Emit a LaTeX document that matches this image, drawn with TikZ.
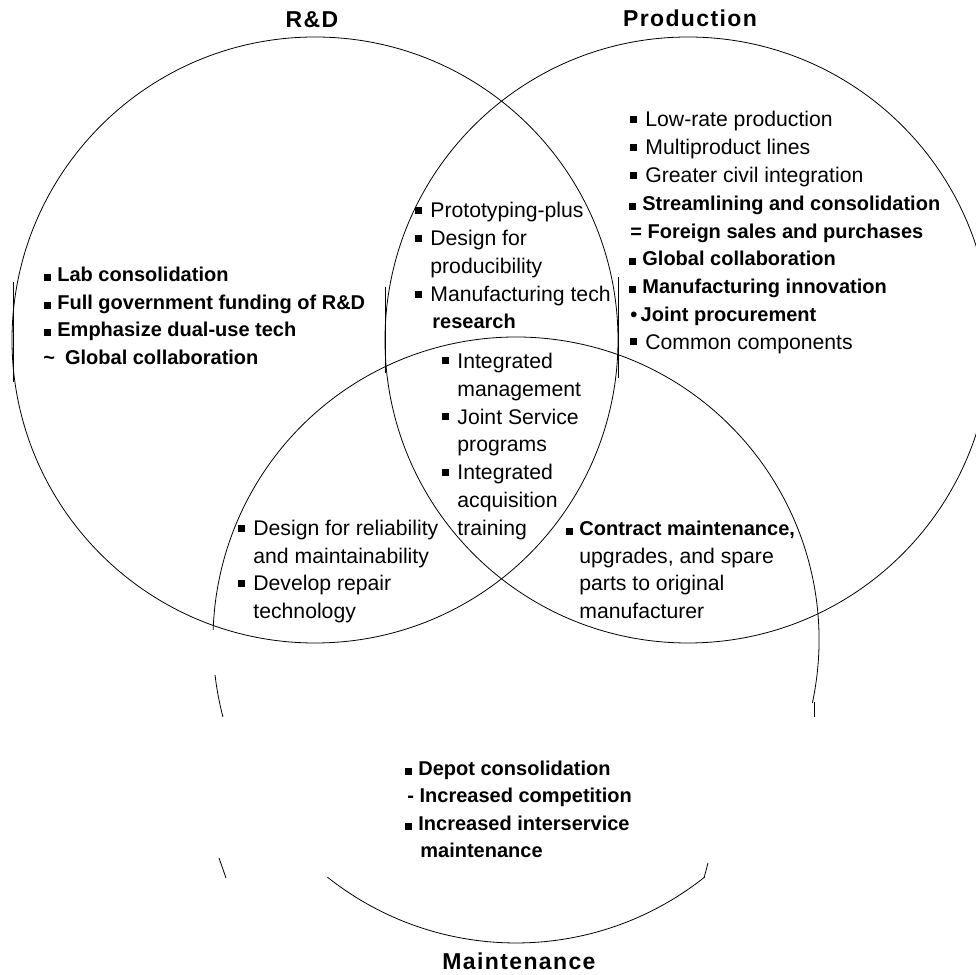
\documentclass[tikz,border=0pt]{standalone}
\usepackage{fontspec}
\setmainfont{Liberation Sans}
\usepackage{tikz}
\newcommand{\ntxt}{\fontsize{10.6}{12}\selectfont}
\newcommand{\btxt}{\fontsize{10}{12}\selectfont\bfseries}
\newcommand{\nsq}{\rule[2pt]{3.5pt}{3.5pt}\hspace{4pt}}
\newcommand{\bsq}{\rule[0.3pt]{3.5pt}{3.5pt}\hspace{3pt}}
\begin{document}
\begin{tikzpicture}[x=0.5pt,y=0.5pt,line width=0.4pt,
  item/.style={anchor=base west,inner sep=0pt,font=\ntxt},
  bitem/.style={anchor=base west,inner sep=0pt,font=\btxt},
  head/.style={anchor=base,inner sep=0pt,font=\fontsize{11.5}{12}\selectfont\bfseries\addfontfeature{LetterSpace=6}}]
  \useasboundingbox (0,0) rectangle (976,975);
  \draw (315,635) circle[radius=303];
  \draw (688,635) circle[radius=303];
  \draw (516,335) ++(-12:303) arc[start angle=-12,end angle=178.1,radius=303];
  \draw (516,335) ++(186.6:303) arc[start angle=186.6,end angle=194.7,radius=303];
  \draw (516,335) ++(231.5:303) arc[start angle=231.5,end angle=308.5,radius=303];
  \draw (219,117) -- (226,97);
  \draw (704,97) -- (708,112);
  \draw (814,273) -- (814,258);
  \draw (13,693) -- (13,593);
  \draw (385,688) -- (385,602);
  \draw (618,698) -- (618,597);

  \node[head] (rd) at (312,947) {R\&D};
  \node[head] (prod) at (690,948) {Production};
  \node[head] (maint) at (519,5) {Maintenance};

  \node[bitem] (rd1) at (44,693) {\bsq Lab consolidation};
  \node[bitem] (rd2) at (44,665.5) {\bsq Full government funding of R\&D};
  \node[bitem] (rd3) at (44,638) {\bsq Emphasize dual-use tech};
  \node[bitem] (rd4) at (43,610.5) {\textasciitilde\hspace{5pt}Global collaboration};

  \node[item] (pr1) at (630,848) {\nsq Low-rate production};
  \node[item] (pr2) at (630,820.2) {\nsq Multiproduct lines};
  \node[item] (pr3) at (630,792.4) {\nsq Greater civil integration};
  \node[bitem] (pr4) at (629,764.6) {\bsq Streamlining and consolidation};
  \node[bitem] (pr5) at (630,736.8) {= Foreign sales and purchases};
  \node[bitem] (pr6) at (629,709) {\bsq Global collaboration};
  \node[bitem] (pr7) at (629,681.2) {\bsq Manufacturing innovation};
  \node[bitem] (pr8) at (630,653.4) {\textbullet\,Joint procurement};
  \node[item] (pr9) at (630,625.6) {\nsq Common components};

  \node[item] (rp1) at (415,757) {\nsq Prototyping-plus};
  \node[item] (rp2) at (415,729) {\nsq Design for};
  \node[item] (rp3) at (430,701) {producibility};
  \node[item] (rp4) at (415,673) {\nsq Manufacturing tech};
  \node[bitem] (rp5) at (432,646) {research};

  \node[item] (all1) at (442,606.5) {\nsq Integrated};
  \node[item] (all2) at (457,578.7) {management};
  \node[item] (all3) at (442,550.9) {\nsq Joint Service};
  \node[item] (all4) at (457,523.1) {programs};
  \node[item] (all5) at (442,495.3) {\nsq Integrated};
  \node[item] (all6) at (457,467.5) {acquisition};
  \node[item] (all7) at (457,439.7) {training};

  \node[item] (rm1) at (238,439) {\nsq Design for reliability};
  \node[item] (rm2) at (253,411.5) {and maintainability};
  \node[item] (rm3) at (238,384) {\nsq Develop repair};
  \node[item] (rm4) at (253,356) {technology};

  \node[bitem] (pm1) at (566,439) {\bsq Contract maintenance,};
  \node[item] (pm2) at (579,411.5) {upgrades, and spare};
  \node[item] (pm3) at (579,384) {parts to original};
  \node[item] (pm4) at (579,356) {manufacturer};

  \node[bitem] (mt1) at (405,199.5) {\bsq Depot consolidation};
  \node[bitem] (mt2) at (407,172) {- Increased competition};
  \node[bitem] (mt3) at (405,144.5) {\bsq Increased interservice};
  \node[bitem] (mt4) at (420,117) {maintenance};
\end{tikzpicture}
\end{document}
